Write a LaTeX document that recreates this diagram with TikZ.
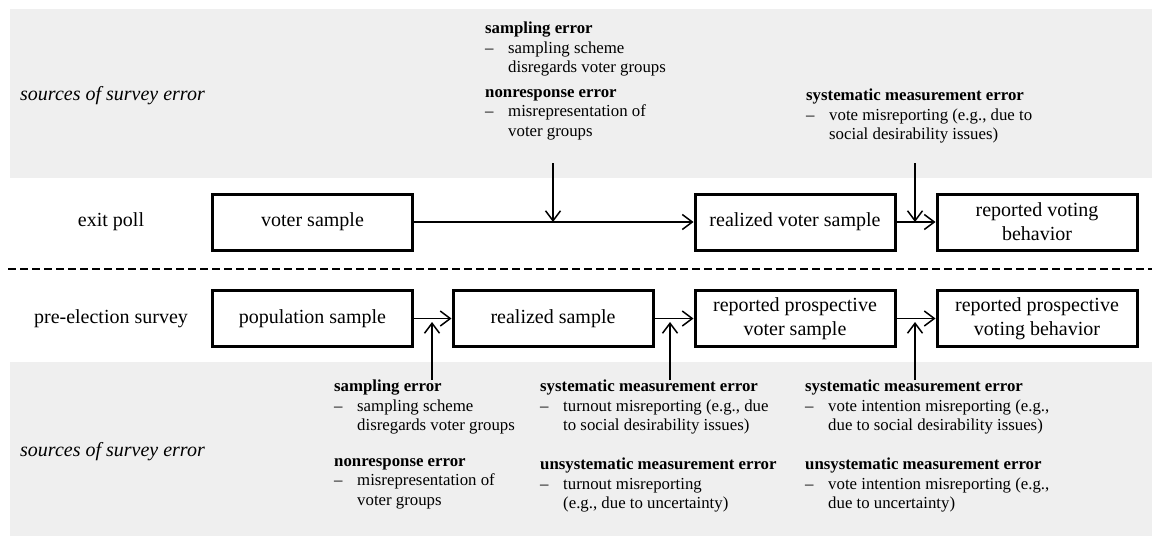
\documentclass[tikz,border=0pt]{standalone}
\usepackage{fontspec}
\setmainfont{Liberation Serif}
\usetikzlibrary{arrows.meta}
\definecolor{bandgray}{RGB}{239,239,239}
\newcommand{\errtxt}[3]{\textbf{#1}\\\makebox[23pt][l]{--}#2\\\hspace*{23pt}#3}

\begin{document}
\begin{tikzpicture}[x=1pt,y=-1pt,
    box/.style={draw, line width=3pt, minimum width=200pt, minimum height=56pt, inner sep=0pt, align=center, font=\fontsize{20}{24}\selectfont},
    rowlbl/.style={font=\fontsize{20}{24}\selectfont},
    srclbl/.style={anchor=west, inner sep=0pt, font=\fontsize{20}{24}\itshape},
    errlbl/.style={anchor=north west, inner sep=0pt, align=left, font=\fontsize{16.8}{19.5}\selectfont},
    conn/.style={line width=1.5pt, -{Straight Barb[length=10pt,width=15pt]}}]
    \useasboundingbox (0,0) rectangle (1152,536);

    % gray bands for the error sources
    \fill[bandgray] (10,8.5) rectangle (1152,178);
    \fill[bandgray] (10,362) rectangle (1152,536);
    \draw[line width=2.5pt, dash pattern=on 8pt off 4pt] (8,269) -- (1152,269);

    \node[srclbl] (src1) at (20,95.5) {sources of survey error};
    \node[srclbl] (src2) at (20,452) {sources of survey error};

    \node[rowlbl] (exit) at (111,222) {exit poll};
    \node[rowlbl] (pre) at (111,318.5) {pre-election survey};

    % exit poll row
    \node[box] (vs) at (312.5,222) {voter sample};
    \node[box] (rvs) at (795,222) {realized voter sample};
    \node[box] (rvb) at (1037,222) {reported voting\\behavior};

    % pre-election row
    \node[box] (ps) at (312.5,318.5) {population sample};
    \node[box] (rs) at (553,318.5) {realized sample};
    \node[box] (rpvs) at (795,318.5) {reported prospective\\voter sample};
    \node[box] (rpvb) at (1037,318.5) {reported prospective\\voting behavior};

    % error sources, top
    \node[errlbl] (se1) at (485,22) {\errtxt{sampling error}{sampling scheme}{disregards voter groups}};
    \node[errlbl] (nr1) at (485,89) {\errtxt{nonresponse error}{misrepresentation of}{voter groups}};
    \node[errlbl] (sm1) at (806,89) {\errtxt{systematic measurement error}{vote misreporting (e.g., due to}{social desirability issues)}};

    % error sources, bottom
    \node[errlbl] (se2) at (334,380) {\errtxt{sampling error}{sampling scheme}{disregards voter groups}};
    \node[errlbl] (nr2) at (334,458) {\errtxt{nonresponse error}{misrepresentation of}{voter groups}};
    \node[errlbl] (sm2) at (540,380) {\errtxt{systematic measurement error}{turnout misreporting (e.g., due}{to social desirability issues)}};
    \node[errlbl] (um2) at (540,458) {\errtxt{unsystematic measurement error}{turnout misreporting}{(e.g., due to uncertainty)}};
    \node[errlbl] (sm3) at (805,380) {\errtxt{systematic measurement error}{vote intention misreporting (e.g.,}{due to social desirability issues)}};
    \node[errlbl] (um3) at (805,458) {\errtxt{unsystematic measurement error}{vote intention misreporting (e.g.,}{due to uncertainty)}};

    % connectors
    \draw[conn] (vs.east) -- (rvs.west);
    \draw[conn] (rvs.east) -- (rvb.west);
    \draw[conn] (ps.east) -- (rs.west);
    \draw[conn] (rs.east) -- (rpvs.west);
    \draw[conn] (rpvs.east) -- (rpvb.west);

    \coordinate (t1) at (553,163);
    \coordinate (t2) at (915,163);
    \coordinate (b1) at (432,380);
    \coordinate (b2) at (670,380);
    \coordinate (b3) at (915,380);
    \draw[conn] (t1) -- (t1 |- vs.east);
    \draw[conn] (t2) -- (t2 |- rvs.east);
    \draw[conn] (b1) -- ++(0,-58);
    \draw[conn] (b2) -- ++(0,-58);
    \draw[conn] (b3) -- ++(0,-58);
\end{tikzpicture}
\end{document}
